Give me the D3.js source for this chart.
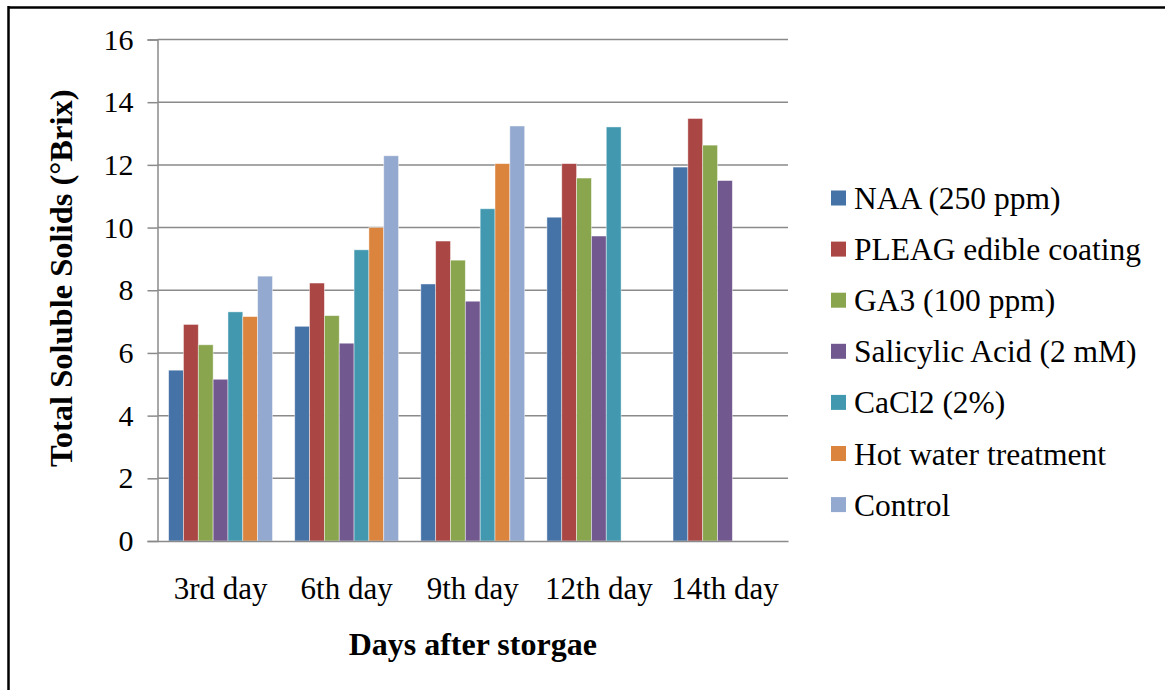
<!DOCTYPE html>
<html>
<head>
<meta charset="utf-8">
<script src="https://cdn.jsdelivr.net/npm/d3@7"></script>
<style>
  html, body { margin: 0; padding: 0; background: #fff; }
  svg { display: block; }
  text { font-family: "Liberation Serif", "Times New Roman", serif; fill: #000; }
</style>
</head>
<body>
<svg id="chart" width="1165" height="690"></svg>
<script>
const categories = ["3rd day", "6th day", "9th day", "12th day", "14th day"];
const seriesNames = ["NAA (250 ppm)", "PLEAG edible coating", "GA3 (100 ppm)", "Salicylic Acid (2 mM)", "CaCl2 (2%)", "Hot water treatment", "Control"];
const seriesColors = ["#4572A7", "#AA4643", "#89A54E", "#71588F", "#4198AF", "#DB843D", "#93A9CF"];
const naa    = [5.45, 6.85, 8.20, 10.33, 11.93];
const pleag  = [6.91, 8.23, 9.57, 12.04, 13.48];
const ga3    = [6.26, 7.19, 8.96, 11.58, 12.63];
const sa     = [5.16, 6.31, 7.65, 9.73, 11.50];
const cacl2  = [7.31, 9.29, 10.60, 13.21, null];
const hot    = [7.16, 10.00, 12.04, null, null];
const control= [8.45, 12.29, 13.24, null, null];
const seriesValues = [naa, pleag, ga3, sa, cacl2, hot, control];
const yTicks = [0, 2, 4, 6, 8, 10, 12, 14, 16];
const yTitle = "Total Soluble Solids (°Brix)";
const xTitle = "Days after storgae";

const svg = d3.select("#chart");

// frame
svg.append("line").attr("x1", 8).attr("x2", 1165).attr("y1", 7.5).attr("y2", 7.5)
  .attr("stroke", "#000").attr("stroke-width", 2.5);
svg.append("line").attr("x1", 8.5).attr("x2", 8.5).attr("y1", 6).attr("y2", 690)
  .attr("stroke", "#000").attr("stroke-width", 2.5);

const pLeft = 157.5, pRight = 788, pTop = 39.5, pBottom = 541;
const y = d3.scaleLinear().domain([0, 16]).range([pBottom, pTop]);
const x = d3.scaleBand().domain(categories).range([pLeft, pRight]).padding(0);
const xs = d3.scaleBand().domain(seriesNames).range([0, x.bandwidth()])
  .paddingInner(0).paddingOuter(0.75);

// gridlines
svg.append("g").selectAll("line").data(yTicks.filter(t => t > 0)).join("line")
  .attr("x1", pLeft).attr("x2", pRight)
  .attr("y1", d => y(d)).attr("y2", d => y(d))
  .attr("stroke", "#8a8a8a").attr("stroke-width", 1.5);

// bars
const groups = svg.append("g").selectAll("g").data(seriesNames).join("g")
  .attr("fill", (d, i) => seriesColors[i]);
groups.selectAll("rect")
  .data((s, i) => categories.map((c, j) => ({ c, s, v: seriesValues[i][j] })).filter(d => d.v != null))
  .join("rect")
  .attr("x", d => x(d.c) + xs(d.s))
  .attr("width", xs.bandwidth())
  .attr("y", d => y(d.v))
  .attr("height", d => y(0) - y(d.v))
  .attr("stroke", "#ffffff").attr("stroke-opacity", 0.55).attr("stroke-width", 0.8);

// y axis
const yAxis = svg.append("g").attr("transform", `translate(${pLeft},0)`)
  .call(d3.axisLeft(y).tickValues(yTicks).tickSize(10).tickPadding(14).tickFormat(d3.format("d")));
yAxis.select(".domain").attr("stroke", "#8a8a8a").attr("stroke-width", 1.5);
yAxis.selectAll(".tick line").attr("stroke", "#8a8a8a").attr("stroke-width", 1.5);
yAxis.selectAll(".tick text").attr("font-size", 30).attr("font-family", "Liberation Serif").attr("fill", "#000");

// x axis
const xAxis = svg.append("g").attr("transform", `translate(0,${pBottom})`)
  .call(d3.axisBottom(x).tickSize(0).tickPadding(36));
xAxis.select(".domain").attr("stroke", "#8a8a8a").attr("stroke-width", 1.5);
xAxis.selectAll(".tick text").attr("font-size", 31).attr("font-family", "Liberation Serif").attr("fill", "#000");

// axis titles
svg.append("text").attr("x", (pLeft + pRight) / 2).attr("y", 655)
  .attr("text-anchor", "middle").attr("font-size", 32).attr("font-weight", "bold").text(xTitle);
svg.append("text").attr("transform", `translate(72,${(pTop + pBottom) / 2 - 12}) rotate(-90)`)
  .attr("text-anchor", "middle").attr("font-size", 32.5).attr("font-weight", "bold").text(yTitle);

// legend
const legend = svg.append("g").selectAll("g").data(seriesNames).join("g")
  .attr("transform", (d, i) => `translate(831,${198 + i * 51.1})`);
legend.append("rect").attr("x", 0).attr("y", -7.5).attr("width", 15).attr("height", 15)
  .attr("fill", (d, i) => seriesColors[i]);
legend.append("text").attr("x", 23).attr("y", 0).attr("dy", "0.35em")
  .attr("font-size", 31.5).text(d => d);
</script>
</body>
</html>
